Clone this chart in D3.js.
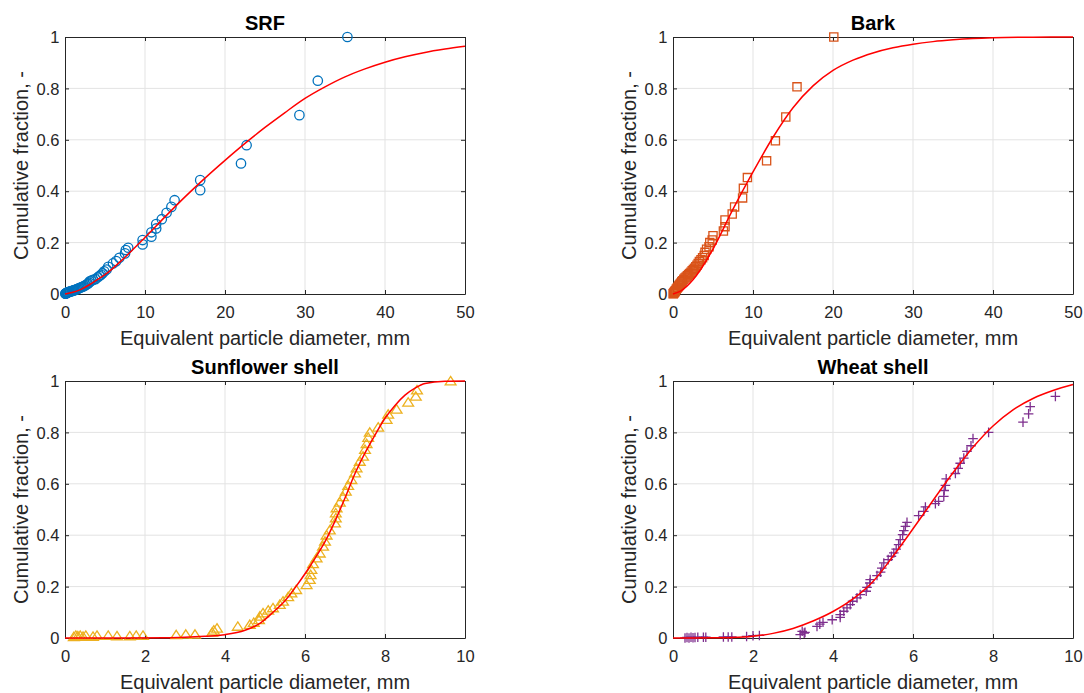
<!DOCTYPE html>
<html>
<head>
<meta charset="utf-8">
<script src="https://cdn.jsdelivr.net/npm/d3@7"></script>
<style>
  html, body { margin: 0; padding: 0; background: #fff; }
  svg { display: block; font-family: "Liberation Sans", Arial, Helvetica, sans-serif; }
</style>
</head>
<body>
<svg id="chart" width="1084" height="693"></svg>
<script>
// ---------------- DATA ----------------
const titles = ["SRF", "Bark", "Sunflower shell", "Wheat shell"];
const xLabel = "Equivalent particle diameter, mm";
const yLabel = "Cumulative fraction, -";
const xTicksWide = [0, 10, 20, 30, 40, 50];
const xTicksNarrow = [0, 2, 4, 6, 8, 10];
const yTicks = [0, 0.2, 0.4, 0.6, 0.8, 1];

// SRF measured points
const srfX = [0.05,0.08,0.1,0.12,0.15,0.2,0.25,0.3,0.35,0.4,0.5,0.6,0.7,0.8,0.9,1.0,1.1,1.2,1.35,1.5,1.65,1.8,1.95,2.1,2.25,2.4,2.55,2.7,2.85,3.0,3.1,3.3,3.5,3.8,4.1,4.3,4.5,4.7,4.9,5.2,5.4,6.0,6.4,6.8,7.5,7.6,7.9,9.7,9.7,10.8,10.8,11.4,11.4,12.1,12.7,13.3,13.7,16.9,16.9,22.0,22.7,29.3,31.6,35.3];
const srfY = [0.001,0.002,0.002,0.003,0.003,0.004,0.005,0.006,0.006,0.007,0.008,0.009,0.010,0.011,0.012,0.013,0.014,0.015,0.017,0.019,0.021,0.023,0.025,0.027,0.029,0.031,0.034,0.037,0.040,0.044,0.049,0.052,0.055,0.058,0.065,0.070,0.075,0.081,0.088,0.095,0.106,0.119,0.128,0.141,0.158,0.171,0.180,0.193,0.210,0.223,0.240,0.255,0.272,0.291,0.316,0.339,0.365,0.404,0.443,0.508,0.579,0.696,0.830,1.0];
// SRF fitted curve
const srfFitX = [0,1,2,3,4,5,7.5,10,12.5,15,17.5,20,22.5,25,27.5,30,32.5,35,37.5,40,42.5,45,47.5,50];
const srfFitY = [0,0.007,0.018,0.035,0.055,0.075,0.143,0.22,0.30,0.378,0.451,0.52,0.586,0.648,0.706,0.761,0.806,0.845,0.876,0.902,0.923,0.94,0.953,0.964];

// Bark measured points
const barkX = [0.03,0.05,0.1,0.15,0.2,0.25,0.3,0.4,0.5,0.6,0.7,0.8,0.9,1.0,1.1,1.2,1.35,1.5,1.65,1.8,1.95,2.1,2.25,2.4,2.55,2.7,2.85,3.0,3.15,3.3,3.5,3.7,3.9,4.0,4.2,4.5,4.6,4.9,5.0,6.3,6.5,6.5,7.4,7.7,8.7,8.8,9.3,11.7,12.8,14.1,15.5,20.1];
const barkY = [0.001,0.002,0.004,0.006,0.008,0.010,0.013,0.018,0.022,0.026,0.031,0.035,0.039,0.043,0.048,0.052,0.057,0.062,0.066,0.071,0.076,0.080,0.085,0.090,0.095,0.100,0.106,0.112,0.119,0.126,0.133,0.141,0.150,0.162,0.174,0.184,0.200,0.210,0.227,0.245,0.262,0.288,0.311,0.339,0.374,0.411,0.453,0.518,0.596,0.689,0.806,1.0];
const barkFitX = [0,1,2.5,5,7.5,10,12.5,15,17.5,20,22.5,25,27.5,30,32.5,35,37.5,40,45,50];
const barkFitY = [0,0.012,0.055,0.175,0.33,0.475,0.61,0.725,0.81,0.87,0.91,0.938,0.958,0.972,0.982,0.989,0.994,0.997,0.9995,1.0];

// Sunflower shell measured points
const sunX = [0.22,0.27,0.32,0.38,0.45,0.52,0.7,0.8,1.08,1.3,1.62,1.78,1.95,2.78,3.02,3.25,3.68,3.72,3.8,4.32,4.62,4.72,4.85,4.87,4.95,5.08,5.2,5.37,5.45,5.58,5.66,5.78,6.04,6.12,6.14,6.16,6.2,6.29,6.37,6.45,6.5,6.54,6.62,6.75,6.77,6.77,6.79,6.87,6.95,7.02,7.08,7.16,7.25,7.29,7.37,7.45,7.5,7.54,7.58,7.62,7.83,8.04,8.08,8.29,8.58,8.77,8.8,9.64];
const sunY = [0.005,0.01,0.008,0.01,0.006,0.01,0.006,0.01,0.01,0.008,0.008,0.01,0.01,0.012,0.014,0.014,0.022,0.03,0.038,0.045,0.052,0.06,0.071,0.084,0.097,0.108,0.117,0.13,0.143,0.16,0.175,0.188,0.207,0.227,0.246,0.266,0.289,0.311,0.33,0.357,0.376,0.40,0.42,0.447,0.467,0.486,0.506,0.528,0.549,0.571,0.593,0.616,0.642,0.661,0.687,0.707,0.733,0.756,0.78,0.80,0.82,0.85,0.87,0.89,0.917,0.94,0.965,1.0];
const sunFitX = [0,2.5,3,3.5,4,4.5,4.9,5.2,5.5,5.75,6.0,6.25,6.5,6.75,7.0,7.25,7.5,7.75,8.0,8.25,8.5,8.75,9.0,9.5,10];
const sunFitY = [0,0.001,0.003,0.007,0.013,0.03,0.06,0.1,0.145,0.195,0.25,0.31,0.375,0.455,0.545,0.64,0.72,0.79,0.855,0.905,0.945,0.972,0.99,0.999,1.0];

// Wheat shell measured points
const wheatX = [0.3,0.35,0.4,0.45,0.5,0.55,0.62,0.76,0.82,1.26,1.38,1.47,1.84,2.0,2.16,3.18,3.23,3.28,3.3,3.6,3.67,3.75,3.98,4.18,4.18,4.27,4.35,4.43,4.49,4.6,4.68,4.83,4.85,4.92,4.93,5.1,5.19,5.22,5.27,5.38,5.46,5.52,5.58,5.64,5.68,5.74,5.77,5.81,5.85,6.14,6.27,6.31,6.56,6.64,6.77,6.78,6.81,6.83,7.06,7.13,7.18,7.27,7.35,7.45,7.5,7.89,8.75,8.89,8.93,9.56];
const wheatY = [0.0,0.002,0.0,0.003,0.001,0.002,0.003,0.003,0.003,0.004,0.004,0.004,0.006,0.009,0.01,0.013,0.026,0.019,0.022,0.045,0.054,0.061,0.071,0.08,0.091,0.104,0.117,0.13,0.143,0.156,0.169,0.182,0.197,0.214,0.227,0.243,0.256,0.272,0.292,0.305,0.318,0.331,0.346,0.363,0.383,0.402,0.418,0.434,0.45,0.476,0.493,0.51,0.523,0.532,0.551,0.574,0.594,0.619,0.64,0.66,0.68,0.70,0.726,0.748,0.776,0.80,0.84,0.872,0.9,0.94];
const wheatFitX = [0,1,1.5,2,2.5,3,3.5,4,4.5,5,5.5,6,6.5,7,7.5,8,8.5,9,9.5,10];
const wheatFitY = [0,0.0005,0.002,0.007,0.018,0.037,0.066,0.103,0.152,0.22,0.318,0.425,0.535,0.643,0.742,0.825,0.888,0.932,0.963,0.986];

// ---------------- LAYOUT / STYLE ----------------
const panels = [
  { title: titles[0], xs: srfX, ys: srfY, fx: srfFitX, fy: srfFitY, xMax: 50, xTicks: xTicksWide,
    left: 65, right: 465, top: 37, bottom: 294, color: "#0072BD", marker: "circle" },
  { title: titles[1], xs: barkX, ys: barkY, fx: barkFitX, fy: barkFitY, xMax: 50, xTicks: xTicksWide,
    left: 673, right: 1073, top: 37, bottom: 294, color: "#D95319", marker: "square" },
  { title: titles[2], xs: sunX, ys: sunY, fx: sunFitX, fy: sunFitY, xMax: 10, xTicks: xTicksNarrow,
    left: 65, right: 465, top: 381, bottom: 638, color: "#EDB120", marker: "triangle" },
  { title: titles[3], xs: wheatX, ys: wheatY, fx: wheatFitX, fy: wheatFitY, xMax: 10, xTicks: xTicksNarrow,
    left: 673, right: 1073, top: 381, bottom: 638, color: "#7E2F8E", marker: "plus" }
];

const axisColor = "#262626";
const gridColor = "#e3e3e3";
const tickLen = 4;

const markerPaths = {
  circle: "M4.7,0A4.7,4.7 0 1,1 -4.7,0A4.7,4.7 0 1,1 4.7,0Z",
  square: "M-4.1,-4.1H4.1V4.1H-4.1Z",
  triangle: "M0,-4.6L5.4,3.8L-5.4,3.8Z",
  plus: "M-4.8,0H4.8M0,-4.8V4.8"
};

const svg = d3.select("#chart");

panels.forEach(p => {
  const x = d3.scaleLinear().domain([0, p.xMax]).range([p.left, p.right]);
  const y = d3.scaleLinear().domain([0, 1]).range([p.bottom, p.top]);
  const g = svg.append("g");

  // grid
  g.append("g").selectAll("line").data(p.xTicks.slice(1, -1)).join("line")
    .attr("x1", d => x(d)).attr("x2", d => x(d))
    .attr("y1", p.top).attr("y2", p.bottom)
    .attr("stroke", gridColor).attr("stroke-width", 1);
  g.append("g").selectAll("line").data(yTicks.slice(1, -1)).join("line")
    .attr("y1", d => y(d)).attr("y2", d => y(d))
    .attr("x1", p.left).attr("x2", p.right)
    .attr("stroke", gridColor).attr("stroke-width", 1);

  // box axes (bottom/left with labels, top/right mirrored ticks)
  const axB = d3.axisBottom(x).tickValues(p.xTicks).tickSizeInner(-tickLen).tickSizeOuter(0).tickPadding(10).tickFormat(d3.format("d"));
  const axT = d3.axisTop(x).tickValues(p.xTicks).tickSizeInner(-tickLen).tickSizeOuter(0).tickFormat("");
  const axL = d3.axisLeft(y).tickValues(yTicks).tickSizeInner(-tickLen).tickSizeOuter(0).tickPadding(9).tickFormat(d => d === 0 || d === 1 ? String(d) : d3.format(".1f")(d));
  const axR = d3.axisRight(y).tickValues(yTicks).tickSizeInner(-tickLen).tickSizeOuter(0).tickFormat("");

  const styleAxis = sel => {
    sel.select(".domain").attr("stroke", axisColor).attr("stroke-width", 1);
    sel.selectAll(".tick line").attr("stroke", axisColor).attr("stroke-width", 1);
    sel.selectAll(".tick text").attr("fill", axisColor).attr("font-size", "16.5px")
      .attr("font-family", "Liberation Sans, Arial, sans-serif");
  };

  g.append("g").attr("transform", `translate(0,${p.bottom})`).call(axB).call(styleAxis)
    .selectAll(".tick text").attr("dy", null).attr("y", 23.5).attr("dominant-baseline", "alphabetic");
  g.append("g").attr("transform", `translate(0,${p.top})`).call(axT).call(styleAxis);
  g.append("g").attr("transform", `translate(${p.left},0)`).call(axL).call(styleAxis)
    .selectAll(".tick text").attr("x", -5.5).attr("dy", "0.35em");
  g.append("g").attr("transform", `translate(${p.right},0)`).call(axR).call(styleAxis);

  // markers
  const pts = p.xs.map((v, i) => [v, p.ys[i]]);
  g.append("g").selectAll("path").data(pts).join("path")
    .attr("d", markerPaths[p.marker])
    .attr("transform", d => `translate(${x(d[0])},${y(d[1])})`)
    .attr("fill", "none")
    .attr("stroke", p.color)
    .attr("stroke-width", 1.3);

  // fitted curve
  const fit = p.fx.map((v, i) => [v, p.fy[i]]);
  g.append("path")
    .datum(fit)
    .attr("d", d3.line().x(d => x(d[0])).y(d => y(d[1])).curve(d3.curveMonotoneX))
    .attr("fill", "none")
    .attr("stroke", "#ff0000")
    .attr("stroke-width", 1.5);

  // title
  g.append("text")
    .attr("x", (p.left + p.right) / 2).attr("y", p.top - 7.5)
    .attr("text-anchor", "middle")
    .attr("font-size", "20px").attr("font-weight", "bold").attr("fill", "#000")
    .text(p.title);

  // x label
  g.append("text")
    .attr("x", (p.left + p.right) / 2).attr("y", p.bottom + 50.5)
    .attr("text-anchor", "middle")
    .attr("font-size", "20px").attr("fill", axisColor)
    .text(xLabel);

  // y label
  g.append("text")
    .attr("transform", `translate(${p.left - 37},${(p.top + p.bottom) / 2}) rotate(-90)`)
    .attr("text-anchor", "middle")
    .attr("font-size", "20px").attr("fill", axisColor)
    .text(yLabel);
});
</script>
</body>
</html>
